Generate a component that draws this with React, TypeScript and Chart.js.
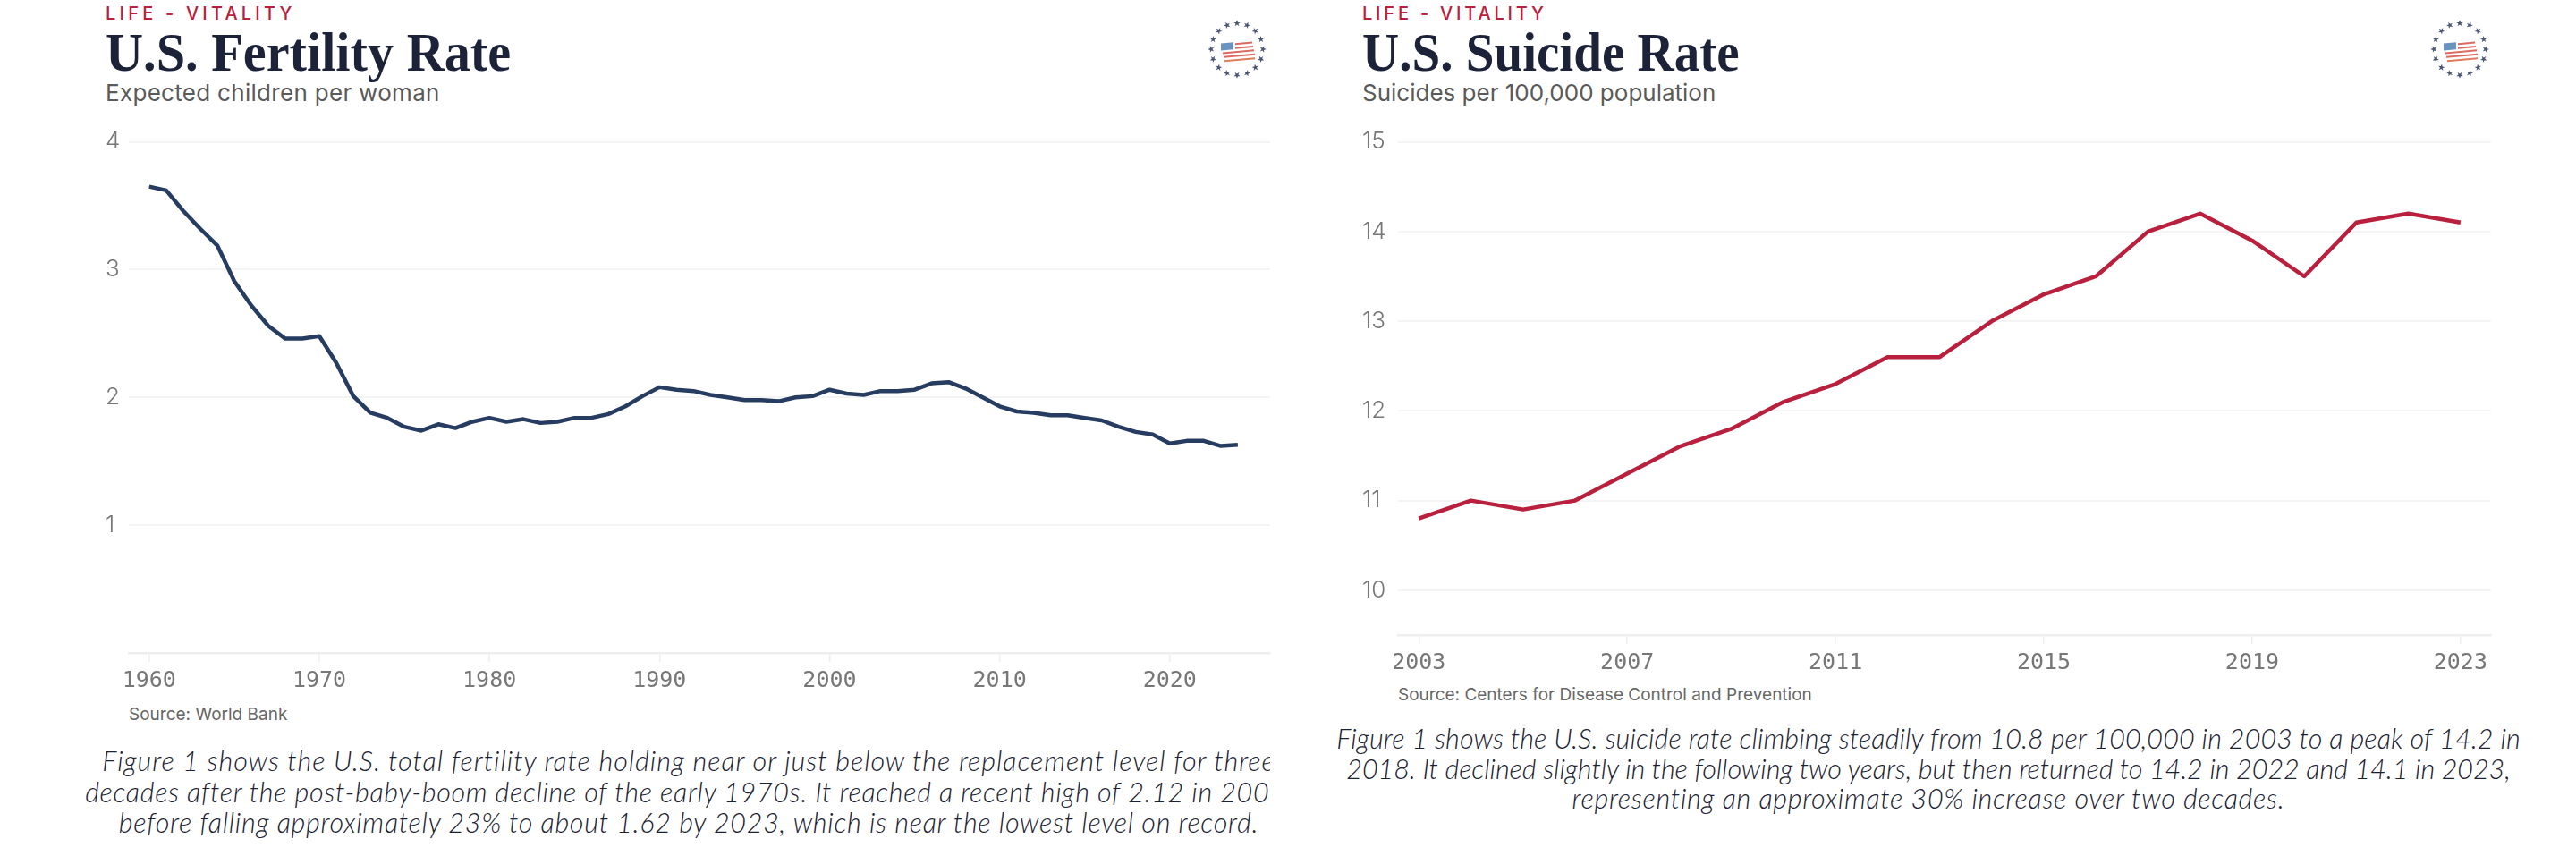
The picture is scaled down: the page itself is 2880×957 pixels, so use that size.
import React, { useEffect, useRef } from 'react';
import { Chart, registerables } from 'chart.js';

Chart.register(...registerables);

const fertilityYears = [
  1960, 1961, 1962, 1963, 1964, 1965, 1966, 1967, 1968, 1969, 1970, 1971, 1972, 1973, 1974, 1975,
  1976, 1977, 1978, 1979, 1980, 1981, 1982, 1983, 1984, 1985, 1986, 1987, 1988, 1989, 1990, 1991,
  1992, 1993, 1994, 1995, 1996, 1997, 1998, 1999, 2000, 2001, 2002, 2003, 2004, 2005, 2006, 2007,
  2008, 2009, 2010, 2011, 2012, 2013, 2014, 2015, 2016, 2017, 2018, 2019, 2020, 2021, 2022, 2023, 2024,
];
const fertilityValues = [
  3.65, 3.62, 3.46, 3.32, 3.19, 2.91, 2.72, 2.56, 2.46, 2.46, 2.48, 2.27, 2.01, 1.88, 1.84, 1.77,
  1.74, 1.79, 1.76, 1.81, 1.84, 1.81, 1.83, 1.8, 1.81, 1.84, 1.84, 1.87, 1.93, 2.01, 2.08, 2.06,
  2.05, 2.02, 2.0, 1.98, 1.98, 1.97, 2.0, 2.01, 2.06, 2.03, 2.02, 2.05, 2.05, 2.06, 2.11, 2.12,
  2.07, 2.0, 1.93, 1.89, 1.88, 1.86, 1.86, 1.84, 1.82, 1.77, 1.73, 1.71, 1.64, 1.66, 1.66, 1.62, 1.63,
];
const fertilityXTicks = [1960, 1970, 1980, 1990, 2000, 2010, 2020];
const fertilityYTicks = [1, 2, 3, 4];

const suicideYears = [
  2003, 2004, 2005, 2006, 2007, 2008, 2009, 2010, 2011, 2012, 2013, 2014, 2015, 2016, 2017, 2018,
  2019, 2020, 2021, 2022, 2023,
];
const suicideValues = [
  10.8, 11, 10.9, 11, 11.3, 11.6, 11.8, 12.1, 12.3, 12.6, 12.6, 13, 13.3, 13.5, 14, 14.2, 13.9,
  13.5, 14.1, 14.2, 14.1,
];
const suicideXTicks = [2003, 2007, 2011, 2015, 2019, 2023];
const suicideYTicks = [10, 11, 12, 13, 14, 15];

const fertilityCaption = [
  'Figure 1 shows the U.S. total fertility rate holding near or just below the replacement level for three',
  'decades after the post-baby-boom decline of the early 1970s. It reached a recent high of 2.12 in 2007,',
  'before falling approximately 23% to about 1.62 by 2023, which is near the lowest level on record.',
];
const suicideCaption = [
  'Figure 1 shows the U.S. suicide rate climbing steadily from 10.8 per 100,000 in 2003 to a peak of 14.2 in',
  '2018. It declined slightly in the following two years, but then returned to 14.2 in 2022 and 14.1 in 2023,',
  'representing an approximate 30% increase over two decades.',
];

const RED = '#b8203d';
const NAVY = '#263c60';
const INK = '#1c2338';

interface LineChartProps {
  years: number[];
  values: number[];
  xTicks: number[];
  yTicks: number[];
  xMin: number;
  xMax: number;
  yMin: number;
  yMax: number;
  color: string;
  left: number;
  top: number;
  width: number;
  height: number;
  yAxisWidth: number;
}

const LineChart: React.FC<LineChartProps> = (props) => {
  const chartRef = useRef<HTMLCanvasElement>(null);

  useEffect(() => {
    if (!chartRef.current) return;
    const chart = new Chart(chartRef.current, {
      type: 'line',
      data: {
        datasets: [
          {
            data: props.years.map((year, i) => ({ x: year, y: props.values[i] })),
            borderColor: props.color,
            borderWidth: 4.5,
            pointRadius: 0,
            tension: 0,
            borderJoinStyle: 'round',
          },
        ],
      },
      options: {
        responsive: false,
        animation: false,
        layout: { autoPadding: false, padding: { top: 17, right: 1, left: 0, bottom: 0 } },
        plugins: { legend: { display: false }, tooltip: { enabled: false } },
        scales: {
          x: {
            type: 'linear',
            min: props.xMin,
            max: props.xMax,
            afterBuildTicks: (scale) => {
              scale.ticks = props.xTicks.map((value) => ({ value }));
            },
            afterFit: (scale) => {
              scale.height = 50;
            },
            border: { color: '#eeeeee', width: 2.5 },
            grid: { drawOnChartArea: false, color: '#eeeeee', lineWidth: 1.5, tickLength: 10 },
            ticks: {
              autoSkip: false,
              maxRotation: 0,
              padding: 6,
              color: '#777777',
              font: { family: '"DejaVu Sans Mono"', size: 25 },
              callback: (value) => String(value),
            },
          },
          y: {
            min: props.yMin,
            max: props.yMax,
            afterBuildTicks: (scale) => {
              scale.ticks = props.yTicks.map((value) => ({ value }));
            },
            afterFit: (scale) => {
              scale.width = props.yAxisWidth;
            },
            border: { display: false },
            grid: { drawTicks: false, color: '#f4f4f4', lineWidth: 2 },
            ticks: {
              crossAlign: 'far',
              color: '#777777',
              font: { family: 'Inter', size: 26, weight: 300 },
            },
          },
        },
      },
    });
    return () => chart.destroy();
  }, []);

  return (
    <canvas
      ref={chartRef}
      width={props.width}
      height={props.height}
      style={{ position: 'absolute', left: props.left, top: props.top, width: props.width, height: props.height }}
    />
  );
};

const starAngles = Array.from({ length: 16 }, (_, i) => (i * 360) / 16);

const Logo: React.FC<{ cx: number; cy: number }> = ({ cx, cy }) => (
  <svg
    width={72}
    height={72}
    viewBox="-36 -36 72 72"
    style={{ position: 'absolute', left: cx - 36, top: cy - 36 }}
  >
    {starAngles.map((angle) => (
      <polygon
        key={angle}
        transform={`rotate(${angle}) translate(0 -29) scale(1.25)`}
        points="0,-3 0.8,-0.9 3,-0.9 1.2,0.4 1.9,2.6 0,1.2 -1.9,2.6 -1.2,0.4 -3,-0.9 -0.8,-0.9"
        fill="#4a5674"
      />
    ))}
    <g transform="skewY(-5)">
      <rect x={-18} y={-8} width={14} height={8} fill="#6a93bf" />
      <rect x={-2} y={-7} width={19} height={2} fill="#dc6a62" />
      <rect x={-2} y={-2.5} width={20} height={2} fill="#dc6a62" />
      <rect x={-16} y={2} width={35} height={2} fill="#dc6a62" />
      <rect x={-15} y={6.5} width={35} height={2} fill="#dc6a62" />
      <rect x={-14} y={11} width={34} height={2} fill="#e07a5c" />
    </g>
  </svg>
);

const textBase: React.CSSProperties = { position: 'absolute', whiteSpace: 'nowrap', margin: 0 };

interface HeaderProps {
  left: number;
  title: string;
  subtitle: string;
  eyebrowSpacing: number;
  titleStretch: number;
  subtitleSpacing: number;
}

const Header: React.FC<HeaderProps> = ({ left, title, subtitle, eyebrowSpacing, titleStretch, subtitleSpacing }) => (
  <>
    <div
      style={{
        ...textBase,
        left,
        top: 3,
        fontFamily: 'Inter',
        fontWeight: 500,
        fontSize: 20,
        lineHeight: '24px',
        letterSpacing: eyebrowSpacing,
        color: RED,
      }}
    >
      LIFE - VITALITY
    </div>
    <div
      style={{
        ...textBase,
        left,
        top: 22,
        fontFamily: '"Liberation Serif"',
        fontWeight: 700,
        fontSize: 62,
        lineHeight: '72px',
        color: INK,
        transform: `scaleX(${titleStretch})`,
        transformOrigin: 'left center',
      }}
    >
      {title}
    </div>
    <div
      style={{
        ...textBase,
        left,
        top: 89,
        fontFamily: 'Inter',
        fontWeight: 400,
        fontSize: 26,
        lineHeight: '30px',
        letterSpacing: subtitleSpacing,
        color: '#5a5a5a',
      }}
    >
      {subtitle}
    </div>
  </>
);

interface CaptionProps {
  lines: string[];
  left: number;
  width: number;
  center: number;
  top: number;
  lineHeight: number;
  spacing: number[];
}

const Caption: React.FC<CaptionProps> = ({ lines, left, width, center, top, lineHeight, spacing }) => (
  <div style={{ position: 'absolute', left, width, top, height: lineHeight * lines.length + 6, overflow: 'hidden' }}>
    {lines.map((line, i) => (
      <div
        key={i}
        style={{
          position: 'absolute',
          left: center - left - 1000,
          width: 2000,
          top: i * lineHeight,
          textAlign: 'center',
          whiteSpace: 'nowrap',
          fontFamily: 'Lato',
          fontStyle: 'italic',
          fontWeight: 300,
          fontSize: 30.5,
          lineHeight: `${lineHeight}px`,
          letterSpacing: spacing[i],
          color: '#1a2233',
        }}
      >
        {line}
      </div>
    ))}
  </div>
);

const sourceStyle: React.CSSProperties = {
  ...textBase,
  fontFamily: 'Inter',
  fontSize: 19,
  lineHeight: '24px',
  color: '#666666',
};

export default function App() {
  return (
    <div style={{ position: 'absolute', left: 0, top: 0, width: 2880, height: 957, background: '#ffffff', overflow: 'hidden' }}>
      <Header
        left={118}
        title="U.S. Fertility Rate"
        subtitle="Expected children per woman"
        eyebrowSpacing={4.2}
        titleStretch={0.94}
        subtitleSpacing={0.3}
      />
      <Logo cx={1383} cy={55} />
      <LineChart
        years={fertilityYears}
        values={fertilityValues}
        xTicks={fertilityXTicks}
        yTicks={fertilityYTicks}
        xMin={1958.8}
        xMax={2025.9}
        yMin={0}
        yMax={4}
        color={NAVY}
        left={118}
        top={140}
        width={1303}
        height={640}
        yAxisWidth={26}
      />
      <div style={{ ...sourceStyle, left: 144, top: 787 }}>Source: World Bank</div>
      <Caption lines={fertilityCaption} left={90} width={1330} center={770} top={833} lineHeight={34.5} spacing={[0.95, 0.67, 0.72]} />

      <Header
        left={1523}
        title="U.S. Suicide Rate"
        subtitle="Suicides per 100,000 population"
        eyebrowSpacing={3.8}
        titleStretch={0.92}
        subtitleSpacing={0}
      />
      <Logo cx={2750} cy={55} />
      <LineChart
        years={suicideYears}
        values={suicideValues}
        xTicks={suicideXTicks}
        yTicks={suicideYTicks}
        xMin={2002.6}
        xMax={2023.58}
        yMin={9.5}
        yMax={15}
        color={RED}
        left={1523}
        top={140}
        width={1264}
        height={620}
        yAxisWidth={40}
      />
      <div style={{ ...sourceStyle, left: 1563, top: 765 }}>Source: Centers for Disease Control and Prevention</div>
      <Caption lines={suicideCaption} left={1480} width={1400} center={2156} top={809} lineHeight={33.5} spacing={[0.12, -0.05, 0.7]} />
    </div>
  );
}
